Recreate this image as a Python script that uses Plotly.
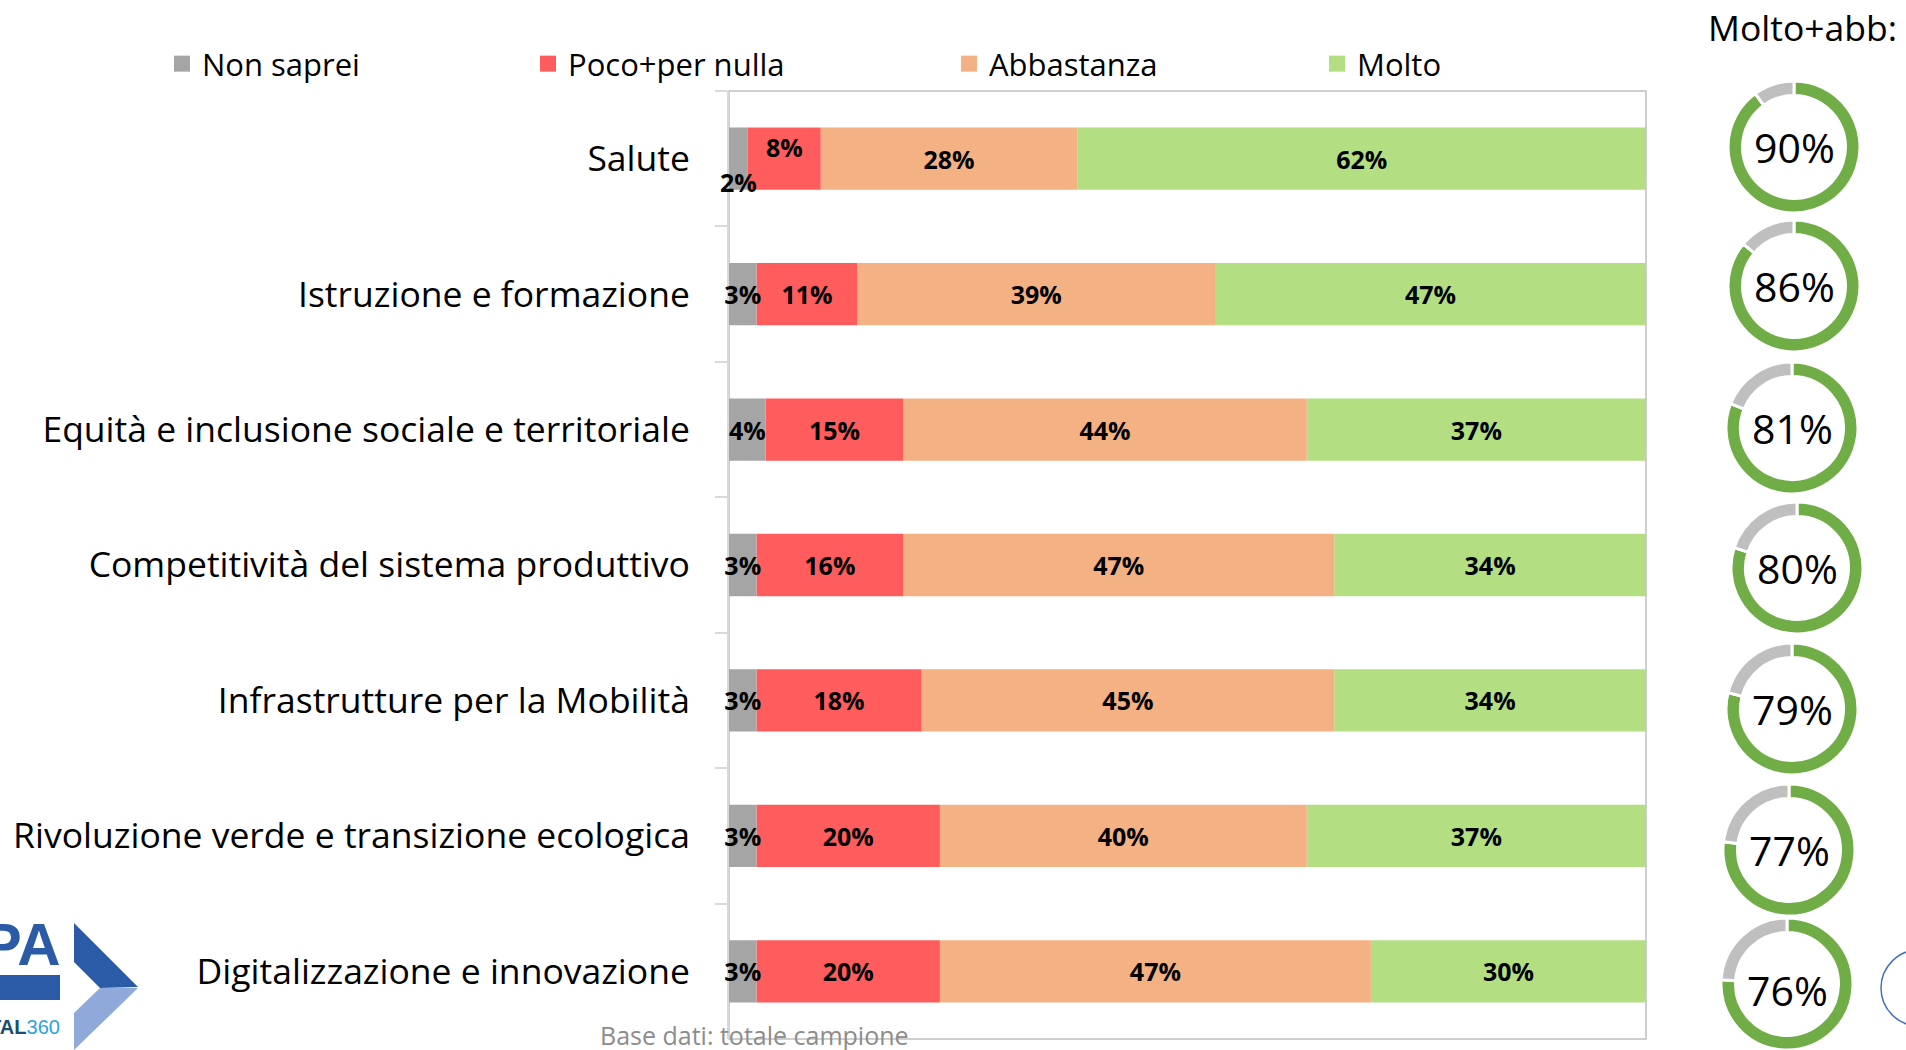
import plotly.graph_objects as go

# ---------------- data ----------------
categories = [
    "Salute",
    "Istruzione e formazione",
    "Equità e inclusione sociale e territoriale",
    "Competitività del sistema produttivo",
    "Infrastrutture per la Mobilità",
    "Rivoluzione verde e transizione ecologica",
    "Digitalizzazione e innovazione",
]
series_names = ["Non saprei", "Poco+per nulla", "Abbastanza", "Molto"]
non_saprei = [2, 3, 4, 3, 3, 3, 3]
poco_per_nulla = [8, 11, 15, 16, 18, 20, 20]
abbastanza = [28, 39, 44, 47, 45, 40, 47]
molto = [62, 47, 37, 34, 34, 37, 30]
molto_abb = [90, 86, 81, 80, 79, 77, 76]
donut_title = "Molto+abb:"
footnote = "Base dati: totale campione"

# ---------------- style ----------------
W, H = 1906, 1050
FONT = "Open Sans"
bar_colors = ["#A5A5A5", "#FF5D5D", "#F4B183", "#B3DE82"]
donut_green = "#70AD47"
donut_gray = "#BFBFBF"


def X(px):
    return px / W


def Y(py):
    return 1 - py / H


plot_left, plot_right, plot_top, plot_bottom = 729, 1646, 91, 1039
label_font = dict(family=FONT, size=25, color="black", weight="bold")

fig = go.Figure()

series_values = [non_saprei, poco_per_nulla, abbastanza, molto]
legend_ids = ["legend", "legend2", "legend3", "legend4"]

# stacked bases computed from the data (so the small left labels can sit on top)
bases = []
running = [0] * len(categories)
for vals in series_values:
    bases.append(list(running))
    running = [r + v for r, v in zip(running, vals)]

# draw segments right-to-left so the labels of the small left segments stay visible
for i in reversed(range(len(series_names))):
    name, vals = series_names[i], series_values[i]
    texts = [f"{v}%" for v in vals]
    if i in (0, 1):
        texts[0] = ""  # Salute small labels are offset (see annotations)
    fig.add_trace(go.Bar(
        y=categories, x=vals, base=bases[i], name=name, orientation="h",
        marker=dict(color=bar_colors[i], line=dict(width=0)),
        text=texts, textposition="inside", insidetextanchor="middle",
        constraintext="none", textangle=0, cliponaxis=False,
        textfont=label_font,
        width=0.46, showlegend=False,
        hovertemplate="%{y}<br>" + name + ": " + "%{text}<extra></extra>",
    ))

for i, name in enumerate(series_names):
    # legend entry with a larger square swatch
    fig.add_trace(go.Scatter(
        x=[None], y=[None], mode="markers", name=name,
        marker=dict(symbol="square", size=18, color=bar_colors[i]),
        legend=legend_ids[i], showlegend=True, hoverinfo="skip",
    ))

# offset labels for the first category (as in the original)
fig.add_annotation(x=non_saprei[0] / 2, y=categories[0], xref="x", yref="y",
                   text=f"{non_saprei[0]}%", showarrow=False, yshift=-23,
                   xanchor="center", yanchor="middle", font=label_font)
fig.add_annotation(x=non_saprei[0] + poco_per_nulla[0] / 2, y=categories[0],
                   xref="x", yref="y", text=f"{poco_per_nulla[0]}%",
                   showarrow=False, yshift=12,
                   xanchor="center", yanchor="middle", font=label_font)

# donuts
donut_cx = [1794, 1794, 1792, 1797, 1792, 1789, 1787]
donut_cy = [147, 286, 428, 568, 709, 850, 990]
R = 66
for v, cx, cy in zip(molto_abb, donut_cx, donut_cy):
    cyc = min(cy, H - R)
    fig.add_trace(go.Pie(
        values=[v, 100 - v], labels=["Molto+abb", "Altro"],
        marker=dict(colors=[donut_green, donut_gray], line=dict(color="white", width=3)),
        hole=0.78, sort=False, direction="clockwise", rotation=0,
        textinfo="none", showlegend=False,
        domain=dict(x=[X(cx - R), X(cx + R)], y=[Y(cyc + R), Y(cyc - R)]),
        hovertemplate="%{label}: %{value}%<extra></extra>",
    ))
    fig.add_annotation(x=X(cx), y=Y(cy), xref="paper", yref="paper",
                       text=f"{v}%", showarrow=False,
                       xanchor="center", yanchor="middle",
                       font=dict(family=FONT, size=41, color="black"))

fig.add_annotation(x=X(1706), y=Y(27), xref="paper", yref="paper",
                   text=donut_title, showarrow=False, xanchor="left", yanchor="middle",
                   font=dict(family=FONT, size=35.5, color="black"))

fig.add_annotation(x=X(598), y=Y(1035), xref="paper", yref="paper",
                   text=footnote, showarrow=False, xanchor="left", yanchor="middle",
                   font=dict(family=FONT, size=25, color="#8C8C8C"))

# logo (decorative, partly cut at left edge as in the original)
fig.add_annotation(x=X(63), y=Y(944), xref="paper", yref="paper", text="<b>FPA</b>",
                   showarrow=False, xanchor="right", yanchor="middle",
                   font=dict(family="Liberation Sans", size=60, color="#2B5BA6"))
fig.add_annotation(x=X(62), y=Y(1027), xref="paper", yref="paper",
                   text="<b>DIGITAL</b><span style='color:#2EA3DC'>360</span>",
                   showarrow=False, xanchor="right", yanchor="middle",
                   font=dict(family="Liberation Sans", size=20, color="#1B4E6E"))

shapes = []
shapes.append(dict(type="rect", xref="paper", yref="paper",
                   x0=X(-10), x1=X(60), y0=Y(1000), y1=Y(975),
                   fillcolor="#2B5BA6", line=dict(width=0)))


def path(pts):
    return "M " + " L ".join(f"{X(a)},{Y(b)}" for a, b in pts) + " Z"


shapes.append(dict(type="path", xref="paper", yref="paper",
                   path=path([(74, 923), (138, 987), (100, 988), (74, 962)]),
                   fillcolor="#2B5BA6", line=dict(width=0)))
shapes.append(dict(type="path", xref="paper", yref="paper",
                   path=path([(100, 988), (138, 988), (74, 1050), (74, 1013)]),
                   fillcolor="#8FA9DA", line=dict(width=0)))
# partial circle at bottom right
shapes.append(dict(type="circle", xref="paper", yref="paper",
                   x0=X(1881), x1=X(1957), y0=Y(1026), y1=Y(950),
                   line=dict(color="#4472C4", width=1.5)))
# plot frame
shapes.append(dict(type="rect", xref="paper", yref="paper", layer="below",
                   x0=X(plot_left), x1=X(plot_right), y0=Y(plot_bottom), y1=Y(plot_top),
                   line=dict(color="#BFBFBF", width=1.5)))

legend_x = [162, 528, 949, 1317]
legend_common = dict(orientation="h", yanchor="middle", xanchor="left",
                     y=Y(64), font=dict(family=FONT, size=31, color="black"),
                     bgcolor="rgba(0,0,0,0)", itemclick=False, itemdoubleclick=False)

fig.update_layout(
    width=W, height=H,
    margin=dict(l=0, r=0, t=0, b=0),
    paper_bgcolor="white", plot_bgcolor="white",
    barmode="overlay", bargap=0.54,
    showlegend=True,
    legend=dict(x=X(legend_x[0]), **legend_common),
    legend2=dict(x=X(legend_x[1]), **legend_common),
    legend3=dict(x=X(legend_x[2]), **legend_common),
    legend4=dict(x=X(legend_x[3]), **legend_common),
    xaxis=dict(domain=[X(plot_left), X(plot_right)], range=[0, 100],
               visible=False, fixedrange=True),
    yaxis=dict(domain=[Y(plot_bottom), Y(plot_top)],
               categoryorder="array", categoryarray=categories,
               autorange="reversed", showgrid=False, layer="below traces",
               showline=True, linecolor="#D9D9D9", linewidth=2,
               ticks="outside", tickson="boundaries", ticklen=12,
               tickcolor="#D9D9D9", tickwidth=2, ticklabelstandoff=30,
               tickfont=dict(family=FONT, size=35.5, color="black"),
               fixedrange=True),
    shapes=shapes,
)

fig.write_html("out.html")
